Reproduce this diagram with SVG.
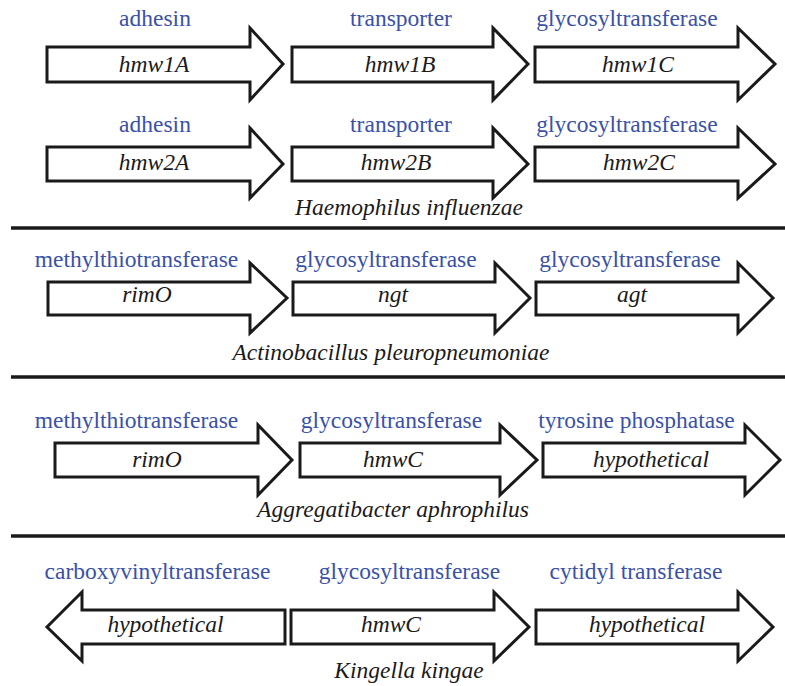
<svg xmlns="http://www.w3.org/2000/svg" width="785" height="686" viewBox="0 0 785 686">
<style>
.arrow{fill:#fff;stroke:#1a1a1a;stroke-width:3;stroke-linejoin:miter}
.fn{font-family:"Liberation Serif","Times New Roman",serif;font-size:23.5px;fill:#3a51a6;text-anchor:middle}
.gene{font-family:"Liberation Serif","Times New Roman",serif;font-style:italic;font-size:23.5px;fill:#1a1a1a;text-anchor:middle}
.sp{font-family:"Liberation Serif","Times New Roman",serif;font-style:italic;font-size:23.5px;fill:#1a1a1a;text-anchor:middle}
.sep{stroke:#1a1a1a;stroke-width:3.5}
</style>
<rect width="785" height="686" fill="#fff"/>
<g id="separators">
<line class="sep" x1="11" y1="228" x2="785" y2="228"/>
<line class="sep" x1="11" y1="377" x2="785" y2="377"/>
<line class="sep" x1="11" y1="536" x2="785" y2="536"/>
</g>
<!-- Row 1 -->
<g id="hmw1A"><path class="arrow" d="M47,47 H250 V28 L283,64 L250,100 V82 H47 Z"/><text class="fn" x="155" y="26">adhesin</text><text class="gene" x="154" y="72">hmw1A</text></g>
<g id="hmw1B"><path class="arrow" d="M292,47 H493 V28 L528,64 L493,100 V82 H292 Z"/><text class="fn" x="401" y="26">transporter</text><text class="gene" x="400" y="72">hmw1B</text></g>
<g id="hmw1C"><path class="arrow" d="M535,47 H738 V28 L775,64 L738,100 V82 H535 Z"/><text class="fn" x="627" y="26">glycosyltransferase</text><text class="gene" x="638" y="72">hmw1C</text></g>
<!-- Row 2 -->
<g id="hmw2A"><path class="arrow" d="M47,147 H250 V128 L283,164 L250,198 V181 H47 Z"/><text class="fn" x="155" y="132">adhesin</text><text class="gene" x="154" y="170">hmw2A</text></g>
<g id="hmw2B"><path class="arrow" d="M292,147 H493 V128 L528,164 L493,198 V181 H292 Z"/><text class="fn" x="401" y="132">transporter</text><text class="gene" x="396" y="170">hmw2B</text></g>
<g id="hmw2C"><path class="arrow" d="M535,147 H738 V128 L775,164 L738,198 V181 H535 Z"/><text class="fn" x="627" y="132">glycosyltransferase</text><text class="gene" x="639" y="170">hmw2C</text></g>
<text class="sp" x="409" y="215">Haemophilus influenzae</text>
<!-- Row 3 -->
<g id="rimO-apl"><path class="arrow" d="M48,282 H250 V263 L287,298 L250,333 V315 H48 Z"/><text class="fn" x="136.5" y="267">methylthiotransferase</text><text class="gene" x="147" y="302">rimO</text></g>
<g id="ngt"><path class="arrow" d="M293,282 H495 V263 L530,298 L495,333 V315 H293 Z"/><text class="fn" x="386" y="267">glycosyltransferase</text><text class="gene" x="393" y="302">ngt</text></g>
<g id="agt"><path class="arrow" d="M536,282 H738 V263 L773,298 L738,333 V315 H536 Z"/><text class="fn" x="630" y="267">glycosyltransferase</text><text class="gene" x="632" y="302">agt</text></g>
<text class="sp" x="391" y="360">Actinobacillus pleuropneumoniae</text>
<!-- Row 4 -->
<g id="rimO-aap"><path class="arrow" d="M55,443 H258 V425 L292,460 L258,495 V477 H55 Z"/><text class="fn" x="136.5" y="428">methylthiotransferase</text><text class="gene" x="157" y="467">rimO</text></g>
<g id="hmwC-aap"><path class="arrow" d="M300,443 H500 V425 L537,460 L500,495 V477 H300 Z"/><text class="fn" x="391.5" y="428">glycosyltransferase</text><text class="gene" x="393" y="467">hmwC</text></g>
<g id="hyp-aap"><path class="arrow" d="M543,443 H745 V425 L780,460 L745,495 V477 H543 Z"/><text class="fn" x="636.5" y="428">tyrosine phosphatase</text><text class="gene" x="651" y="467">hypothetical</text></g>
<text class="sp" x="393" y="517">Aggregatibacter aphrophilus</text>
<!-- Row 5 -->
<g id="hyp1-kk"><path class="arrow" d="M285,610 H82 V592 L47,627 L82,661 V644 H285 Z"/><text class="fn" x="157.5" y="579">carboxyvinyltransferase</text><text class="gene" x="165.5" y="632">hypothetical</text></g>
<g id="hmwC-kk"><path class="arrow" d="M291,610 H494 V592 L529,627 L494,661 V644 H291 Z"/><text class="fn" x="409.5" y="579">glycosyltransferase</text><text class="gene" x="391" y="632">hmwC</text></g>
<g id="hyp2-kk"><path class="arrow" d="M536,610 H738 V592 L773,627 L738,661 V644 H536 Z"/><text class="fn" x="636" y="579">cytidyl transferase</text><text class="gene" x="647" y="632">hypothetical</text></g>
<text class="sp" x="409" y="678">Kingella kingae</text>
</svg>
